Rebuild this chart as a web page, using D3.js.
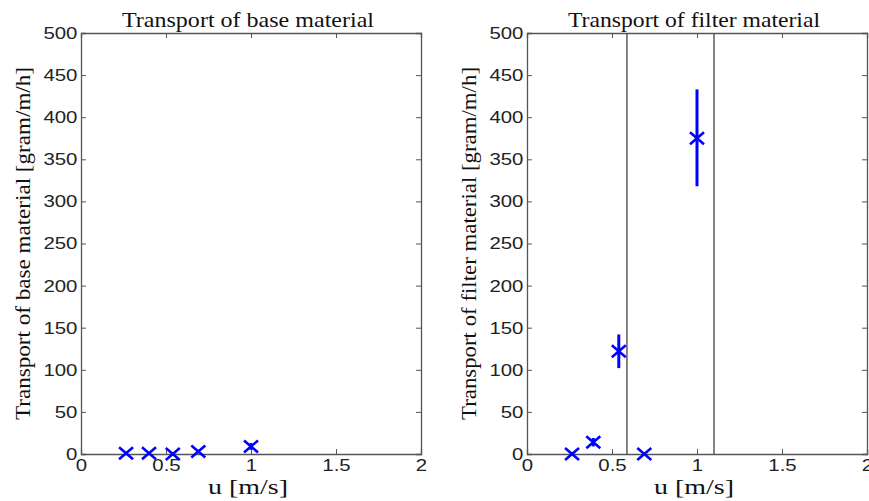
<!doctype html>
<html lang="en">
<head>
<meta charset="UTF-8">
<script src="https://cdnjs.cloudflare.com/ajax/libs/d3/7.8.5/d3.min.js"></script>
<style>
  body { margin: 0; background: #fff; }
  .tick text { font-family: "Liberation Sans", Arial, sans-serif; font-size: 17px; fill: #222; }
  .lab { font-family: "Liberation Serif", "Times New Roman", serif; font-size: 22px; fill: #111; }
</style>
</head>
<body>
<svg id="chart" width="869" height="501"></svg>
<script>
// data
var xTicks = [0, 0.5, 1, 1.5, 2];
var yTicks = [0, 50, 100, 150, 200, 250, 300, 350, 400, 450, 500];

var baseU = [0.265, 0.40, 0.54, 0.69, 1.0];
var baseT = [1, 1, 0, 3, 9];
var baseLo = [0, 0, 0, 1, 5];
var baseHi = [2, 2, 1, 5, 13];

var filterU = [0.265, 0.39, 0.54, 0.69, 1.0];
var filterT = [0, 14, 122, 0, 375];
var filterLo = [0, 9, 102, 0, 318];
var filterHi = [0, 19, 142, 0, 433];
var filterLines = [0.588, 1.10];

var panels = [
    {title: "Transport of base material", ylab: "Transport of base material [gram/m/h]",
     left: 81, u: baseU, t: baseT, lo: baseLo, hi: baseHi, lines: []},
    {title: "Transport of filter material", ylab: "Transport of filter material [gram/m/h]",
     left: 527, u: filterU, t: filterT, lo: filterLo, hi: filterHi, lines: filterLines}
];

var svg = d3.select("#chart");
var plotTop = 33, plotBottom = 454, plotW = 340;

panels.forEach(function (p) {
    var g = svg.append("g").attr("transform", "translate(" + p.left + "," + plotTop + ")");
    var h = plotBottom - plotTop;
    var x = d3.scaleLinear().domain([0, 2]).range([0, plotW]);
    var y = d3.scaleLinear().domain([0, 500]).range([h, 0]);

    // vertical reference lines
    g.selectAll(".vl").data(p.lines).enter().append("line")
        .attr("x1", function (d) { return x(d); }).attr("x2", function (d) { return x(d); })
        .attr("y1", 0).attr("y2", h)
        .attr("stroke", "#333").attr("stroke-width", 1.2);

    // axes with inward ticks
    var ax = g.append("g").attr("transform", "translate(0," + h + ")")
        .call(d3.axisBottom(x).tickValues(xTicks).tickSize(-5).tickPadding(9).tickFormat(d3.format("")));
    var ay = g.append("g")
        .call(d3.axisLeft(y).tickValues(yTicks).tickSize(-5).tickPadding(3));
    g.append("g").call(d3.axisTop(x).tickValues(xTicks).tickSize(-5).tickFormat(""));
    g.append("g").attr("transform", "translate(" + plotW + ",0)")
        .call(d3.axisRight(y).tickValues(yTicks).tickSize(-5).tickFormat(""));
    g.selectAll(".domain").attr("stroke", "#555").attr("stroke-width", 1.3);
    g.selectAll(".tick line").attr("stroke", "#555");
    ax.selectAll(".tick text").attr("dy", "0.5em").attr("transform", "scale(1.2,1)");
    ay.selectAll(".tick text").attr("transform", "scale(1.2,1)");

    var idx = d3.range(p.u.length);
    // error bars
    g.selectAll(".eb").data(idx).enter().append("line")
        .attr("x1", function (i) { return x(p.u[i]); }).attr("x2", function (i) { return x(p.u[i]); })
        .attr("y1", function (i) { return y(p.lo[i]); }).attr("y2", function (i) { return y(p.hi[i]); })
        .attr("stroke", "#0000ff").attr("stroke-width", 3);
    // x markers
    var sx = 7, sy = 6;
    g.selectAll(".mk").data(idx).enter().append("path")
        .attr("d", function (i) {
            var cx = x(p.u[i]), cy = y(p.t[i]);
            return "M" + (cx - sx) + "," + (cy - sy) + "L" + (cx + sx) + "," + (cy + sy) +
                "M" + (cx - sx) + "," + (cy + sy) + "L" + (cx + sx) + "," + (cy - sy);
        })
        .attr("stroke", "#0000ff").attr("stroke-width", 2.6).attr("fill", "none");

    g.append("text").attr("class", "lab").attr("x", plotW / 2 - 3).attr("y", -6)
        .attr("text-anchor", "middle")
        .attr("textLength", 252).attr("lengthAdjust", "spacingAndGlyphs").text(p.title);
    g.append("text").attr("class", "lab").attr("x", plotW / 2 - 3).attr("y", h + 40)
        .style("font-size", "21px")
        .attr("text-anchor", "middle")
        .attr("textLength", 80).attr("lengthAdjust", "spacingAndGlyphs").text("u [m/s]");
    g.append("text").attr("class", "lab")
        .attr("transform", "translate(-51," + (h / 2) + ") rotate(-90)")
        .attr("text-anchor", "middle")
        .attr("textLength", 353).attr("lengthAdjust", "spacingAndGlyphs").text(p.ylab);
});
</script>
</body>
</html>
